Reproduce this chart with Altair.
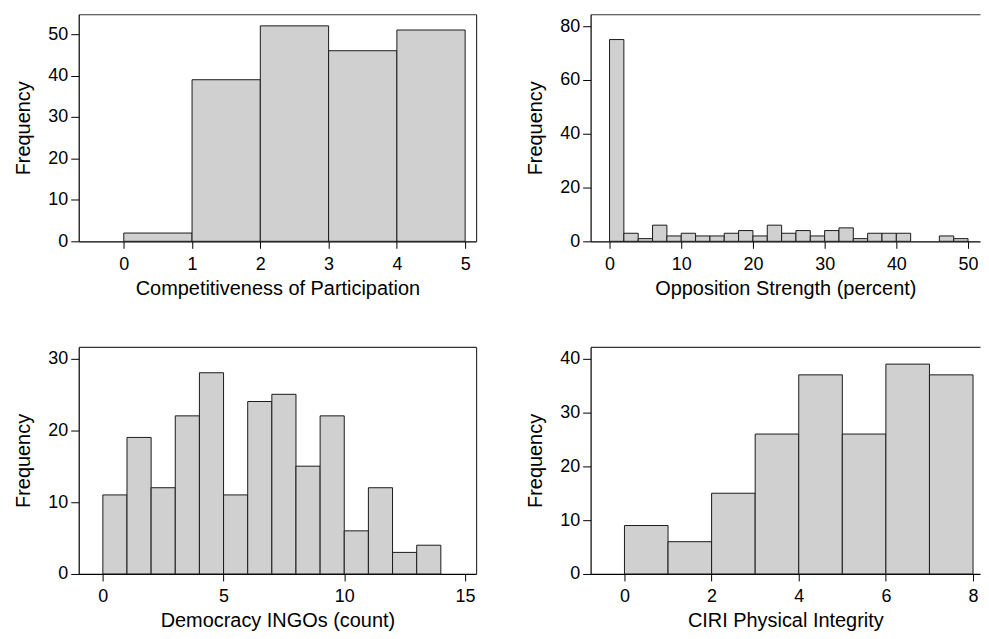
import altair as alt
import pandas as pd

# ---- data ----
# Panel 1: Competitiveness of Participation (bin width 1)
comp_starts = [0, 1, 2, 3, 4]
comp_counts = [2, 39, 52, 46, 51]

# Panel 2: Opposition Strength (percent) (bin width 2)
opp_starts = [0, 2, 4, 6, 8, 10, 12, 14, 16, 18, 20, 22, 24, 26, 28, 30, 32, 34,
              36, 38, 40, 42, 44, 46, 48]
opp_counts = [75, 3, 1, 6, 2, 3, 2, 2, 3, 4, 2, 6, 3, 4, 2, 4, 5, 1,
              3, 3, 3, 0, 0, 2, 1]

# Panel 3: Democracy INGOs (count) (bin width 1)
ingo_starts = [0, 1, 2, 3, 4, 5, 6, 7, 8, 9, 10, 11, 12, 13]
ingo_counts = [11, 19, 12, 22, 28, 11, 24, 25, 15, 22, 6, 12, 3, 4]

# Panel 4: CIRI Physical Integrity (bin width 1)
ciri_starts = [0, 1, 2, 3, 4, 5, 6, 7]
ciri_counts = [9, 6, 15, 26, 37, 26, 39, 37]

FONT = "Liberation Sans"
FILL = "#d0d0d0"
EDGE = "#1a1a1a"


def hist(starts, counts, width, xtitle, xdom, xticks, ydom, yticks, w, h, right_frame):
    df = pd.DataFrame({
        "start": starts,
        "end": [s + width for s in starts],
        "count": counts,
    })
    df = df[df["count"] > 0]
    xs = alt.Scale(domain=xdom, nice=False, zero=False)
    ys = alt.Scale(domain=ydom, nice=False)
    bars = alt.Chart(df).mark_rect(
        fill=FILL, stroke=EDGE, strokeWidth=1
    ).encode(
        x=alt.X("start:Q", title=xtitle, scale=xs,
                axis=alt.Axis(values=xticks, grid=False, format="d")),
        x2="end:Q",
        y=alt.Y("count:Q", title="Frequency", scale=ys,
                axis=alt.Axis(values=yticks, grid=False, format="d")),
        y2=alt.datum(0),
    )
    if right_frame:
        y_frame = alt.Y("count:Q", title=None, scale=ys,
                        axis=alt.Axis(orient="right", labels=False, ticks=False,
                                      grid=False, domainColor="#333333"))
    else:
        y_frame = alt.Y("count:Q", title=None, scale=ys, axis=None)
    frame = alt.Chart(df).mark_point(opacity=0).encode(
        x=alt.X("start:Q", title=None, scale=xs,
                axis=alt.Axis(orient="top", labels=False, ticks=False,
                              grid=False, domainColor="#333333")),
        y=y_frame,
    )
    return alt.layer(bars, frame).resolve_axis(
        x="independent", y="independent"
    ).properties(width=w, height=h)


W_L, W_R, H = 399, 391, 228

p1 = hist(comp_starts, comp_counts, 1, "Competitiveness of Participation",
          [-0.66, 5.16], [0, 1, 2, 3, 4, 5], [0, 54.8], [0, 10, 20, 30, 40, 50],
          W_L, H, True)
p2 = hist(opp_starts, opp_counts, 2, "Opposition Strength (percent)",
          [-2.64, 51.67], [0, 10, 20, 30, 40, 50], [0, 84.4], [0, 20, 40, 60, 80],
          W_R, H, False)
p3 = hist(ingo_starts, ingo_counts, 1, "Democracy INGOs (count)",
          [-1.0, 15.46], [0, 5, 10, 15], [0, 31.6], [0, 10, 20, 30],
          W_L, H, True)
p4 = hist(ciri_starts, ciri_counts, 1, "CIRI Physical Integrity",
          [-0.777, 8.16], [0, 2, 4, 6, 8], [0, 42.2], [0, 10, 20, 30, 40],
          W_R, H, False)

row1 = alt.hconcat(p1, p2, spacing=48)
row2 = alt.hconcat(p3, p4, spacing=48)

chart = alt.vconcat(row1, row2, spacing=47).configure_view(
    stroke="transparent"
).configure_axis(
    labelFont=FONT, titleFont=FONT,
    labelFontSize=18, titleFontSize=20,
    labelColor="#000000", titleColor="#000000",
    titleFontWeight="normal",
    domainColor="#000000", tickColor="#000000",
    domainWidth=1.2, tickWidth=1,
).configure_axisY(
    tickSize=8, labelPadding=3, titlePadding=14,
).configure_axisX(
    tickSize=7, labelPadding=7, titlePadding=5, labelFlush=False,
).properties(
    background="white",
    padding={"left": 5, "top": 4, "right": 0, "bottom": 0},
)

chart.save("out.html", embed_options={"renderer": "svg", "actions": False})
